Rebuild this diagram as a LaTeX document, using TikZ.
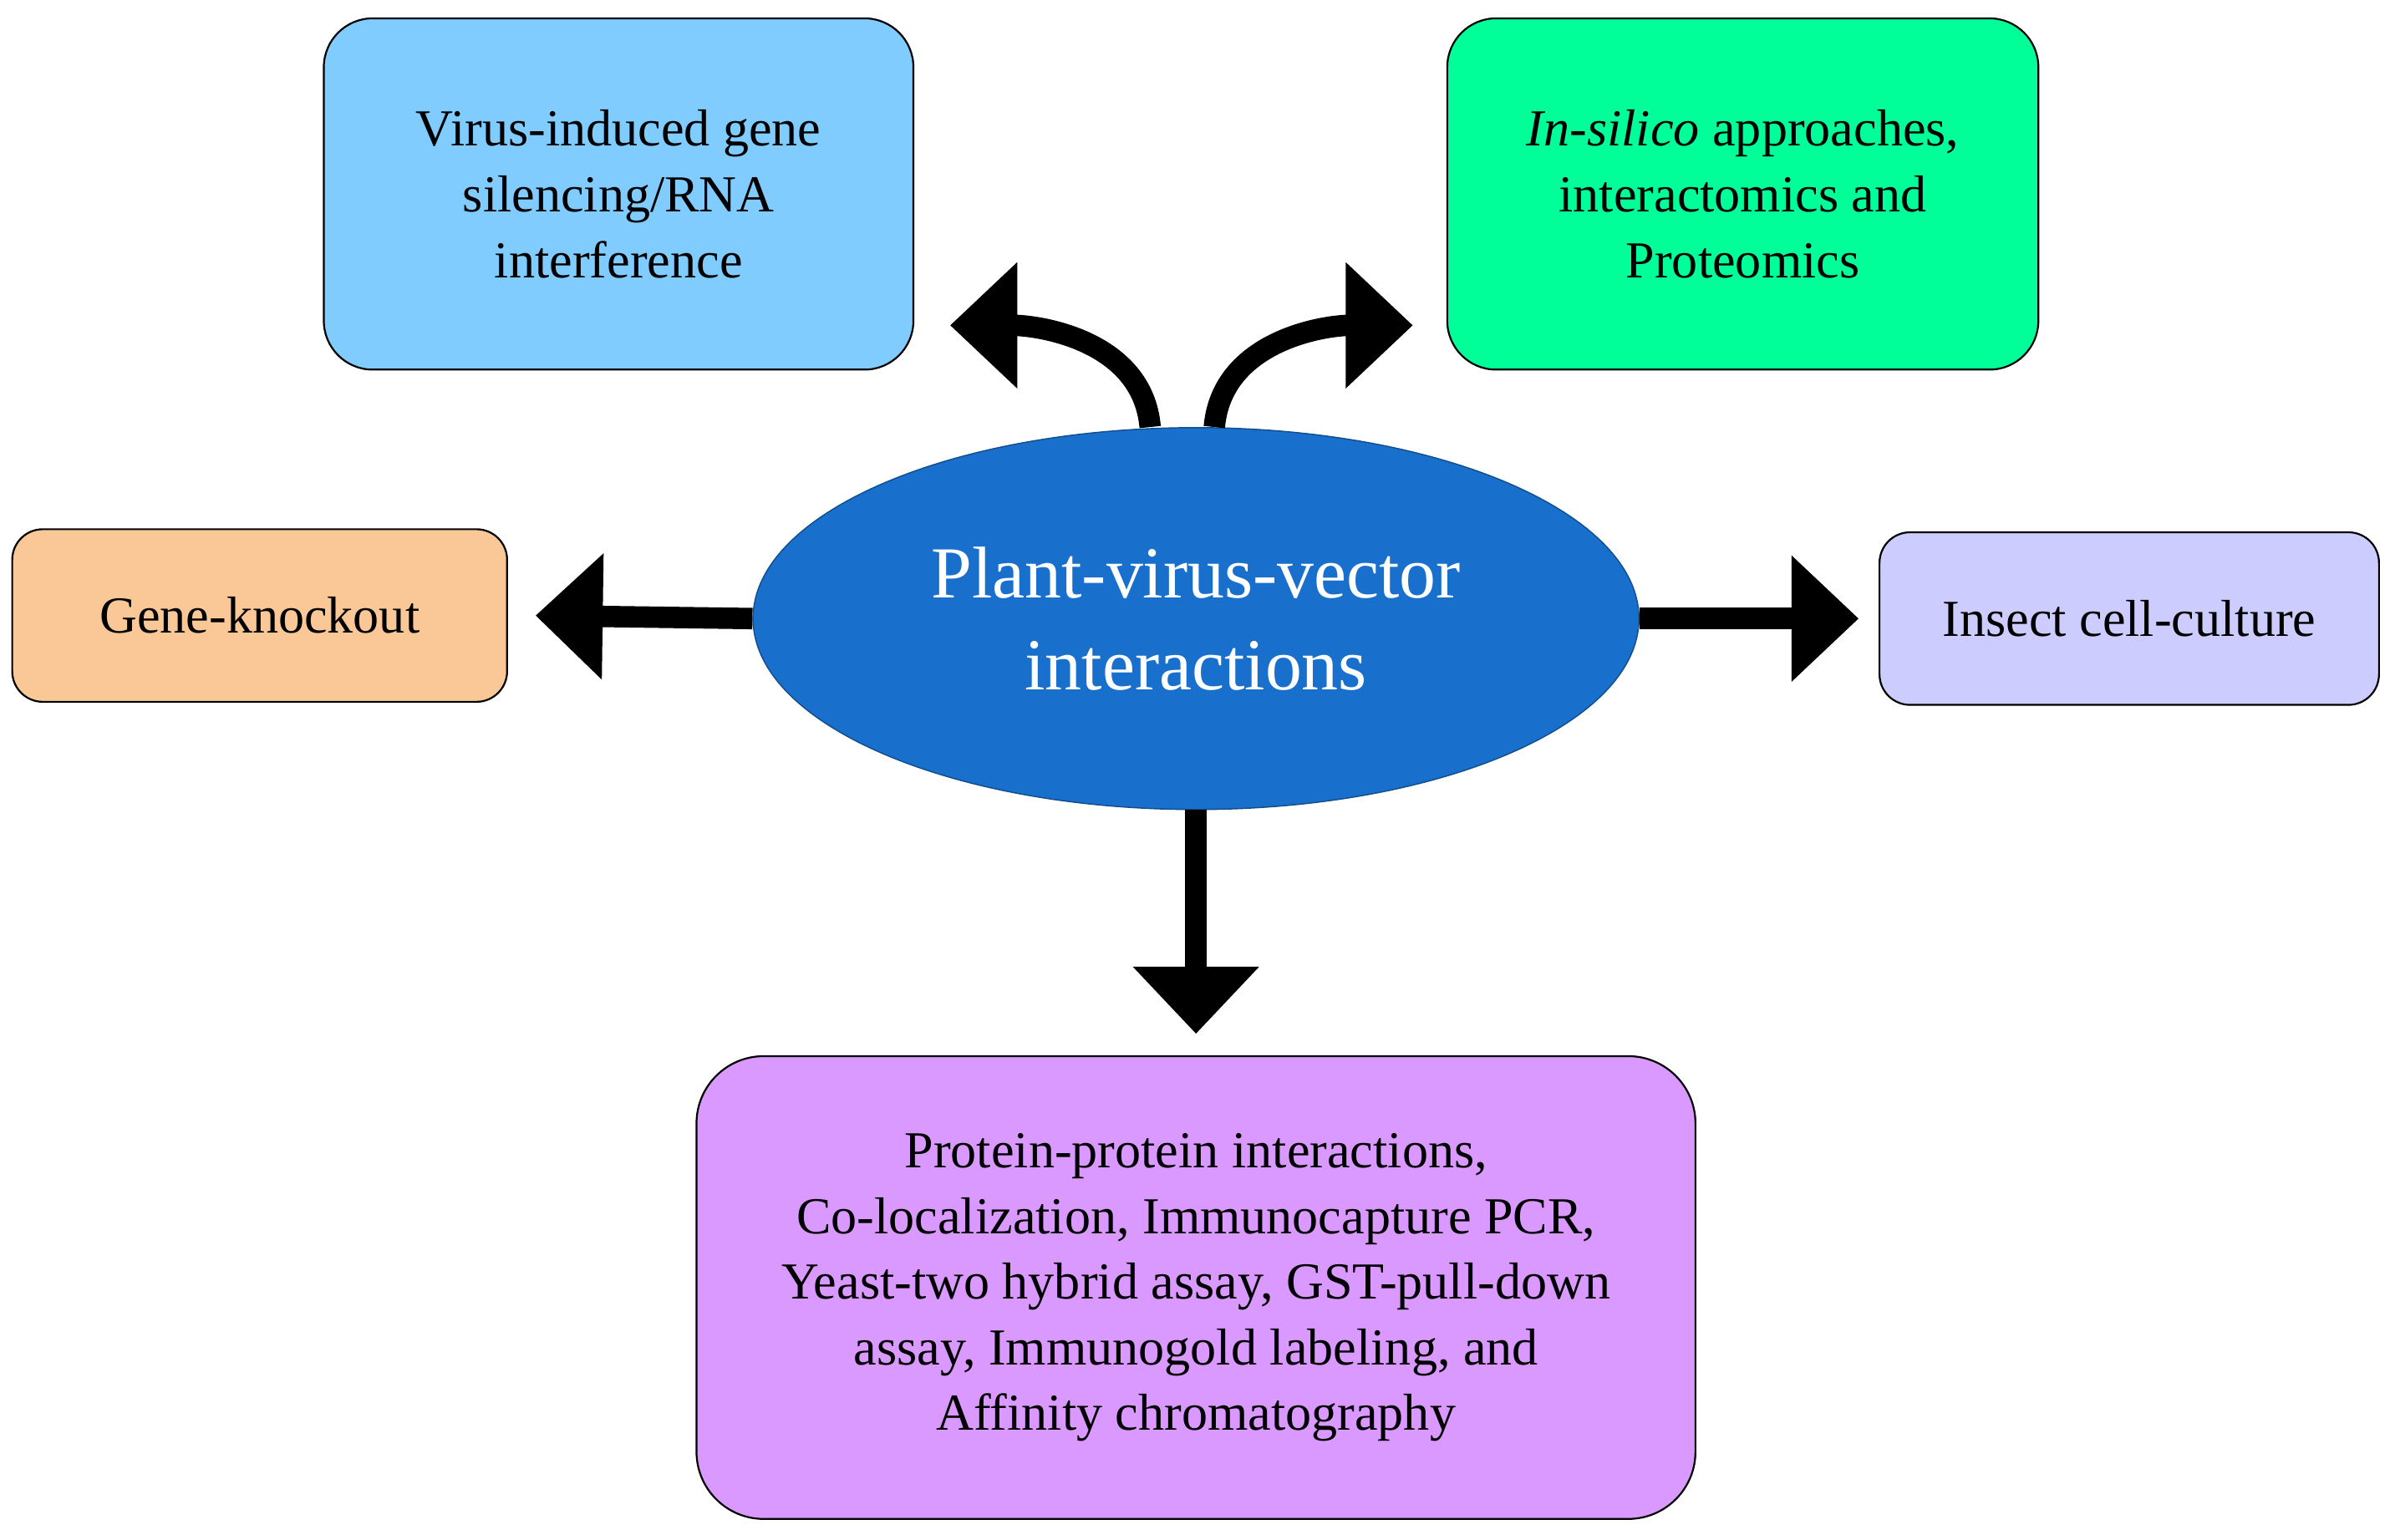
\documentclass[tikz,border=0pt]{standalone}
\usepackage{fontspec}
\setmainfont{Liberation Serif}
\usepackage{xcolor}
\definecolor{vigsblue}{RGB}{128,204,255}
\definecolor{silicogreen}{RGB}{0,255,153}
\definecolor{knockorange}{RGB}{250,200,150}
\definecolor{insectlav}{RGB}{204,204,255}
\definecolor{ppipurple}{RGB}{218,153,255}
\definecolor{hubblue}{RGB}{24,112,204}
\usetikzlibrary{arrows.meta, shapes, positioning}

\begin{document}
\begin{tikzpicture}[
            x=0.5pt, y=-0.5pt,
            methodbox/.style={shape=rectangle, rounded corners=16pt, draw=black, line width=0.6pt, align=center, font=\fontsize{17}{21.5}\selectfont, inner sep=0pt},
            fatarrow/.style={black, line width=7pt, -{Triangle[length=22pt, width=40pt]}}
            ]

            \useasboundingbox (0,0) rectangle (1568,1008);

            % Central ellipse
            \node[shape=ellipse, fill=hubblue, draw=hubblue!70!black, minimum width=290pt, minimum height=125pt, text=white, align=center, font=\fontsize{24}{30}\selectfont] (hub) at (783,405) {Plant-virus-vector\\interactions};

            % Method boxes
            \node[methodbox, fill=vigsblue, minimum width=193pt, minimum height=115pt] (vigs) at (405,127) {Virus-induced gene\\silencing/RNA\\interference};
            \node[methodbox, fill=silicogreen, minimum width=193.5pt, minimum height=115pt] (silico) at (1141,127) {\textit{In-silico} approaches,\\interactomics and\\Proteomics};
            \node[methodbox, fill=knockorange, minimum width=162pt, minimum height=56.5pt, rounded corners=10pt] (knock) at (170,403) {Gene-knockout};
            \node[methodbox, fill=insectlav, minimum width=163.5pt, minimum height=56.5pt, rounded corners=10pt] (insect) at (1394,405) {Insect cell-culture};
            \node[methodbox, fill=ppipurple, minimum width=327pt, minimum height=151.5pt, rounded corners=22pt] (ppi) at (783,843) {Protein-protein interactions,\\Co-localization, Immunocapture PCR,\\Yeast-two hybrid assay, GST-pull-down\\assay, Immunogold labeling, and\\Affinity chromatography};

            % Arrows
            \draw[fatarrow] (hub.west) -- ([xshift=9pt]knock.east);
            \draw[fatarrow] (hub.east) -- ([xshift=-6.5pt]insect.west);
            \draw[fatarrow] (hub.south) -- ([yshift=7pt]ppi.north);
            \coordinate (vigsend) at (622,213);
            \coordinate (silicoend) at (925,213);
            \draw[fatarrow] ([xshift=-15pt]hub.north) to[out=95, in=0] (vigsend);
            \draw[fatarrow] ([xshift=6pt]hub.north) to[out=85, in=180] (silicoend);
\end{tikzpicture}
\end{document}
